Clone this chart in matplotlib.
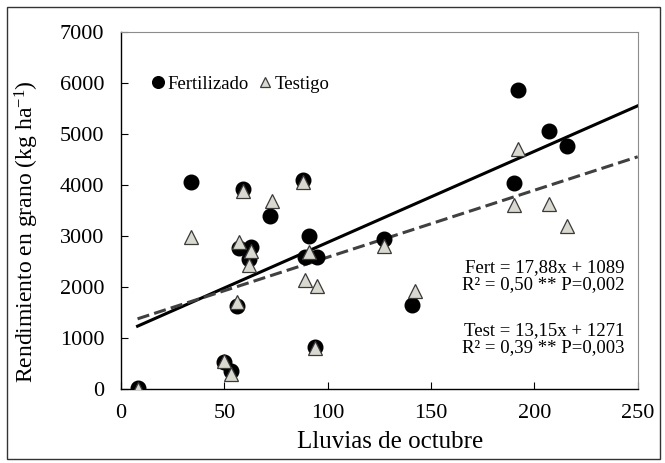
import matplotlib
matplotlib.use("Agg")
import matplotlib.pyplot as plt
from matplotlib.patches import Rectangle
import numpy as np

plt.rcParams['font.family'] = ['Liberation Serif', 'DejaVu Serif']
plt.rcParams['mathtext.fontset'] = 'custom'
plt.rcParams['mathtext.rm'] = 'Liberation Serif'
plt.rcParams['mathtext.it'] = 'Liberation Serif:italic'

# --- datos: lluvias de octubre (mm) vs rendimiento (kg/ha) ---
lluvia_fert = [8, 34, 59, 72, 88, 91, 89, 95, 57, 63, 62, 56, 50, 53, 94, 127, 141, 190, 192, 207, 216]
rend_fert = [10, 4070, 3920, 3400, 4100, 3010, 2600, 2590, 2770, 2790, 2560, 1630, 530, 350, 830, 2950, 1640, 4040, 5870, 5070, 4760]

lluvia_test = [8, 34, 59, 73, 88, 57, 63, 62, 91, 89, 95, 56, 50, 53, 94, 127, 142, 190, 192, 207, 216]
rend_test = [0, 2980, 3890, 3680, 4070, 2890, 2700, 2440, 2680, 2130, 2030, 1700, 540, 290, 810, 2810, 1920, 3610, 4710, 3640, 3200]

# ajustes lineales
pend_fert, ord_fert = 17.88, 1089
pend_test, ord_test = 13.15, 1271

fig = plt.figure(figsize=(6.65, 4.63), dpi=100)
ax = fig.add_axes([0.182, 0.160, 0.777, 0.770])

ax.plot(lluvia_fert, rend_fert, 'o', color='black', markersize=10.5, label='Fertilizado', zorder=3)
ax.plot(lluvia_test, rend_test, '^', markerfacecolor='#d9d9cf', markeredgecolor='#3a3a3a',
        markeredgewidth=0.9, markersize=9.5, label='Testigo', zorder=4)

xr = np.array([8, 250])
ax.plot(xr, pend_fert * xr + ord_fert, '-', color='black', lw=2.2, zorder=2)
ax.plot(xr, pend_test * xr + ord_test, '--', color='#404040', lw=2.2, dashes=(4, 1.7), zorder=2)

ax.set_xlim(0, 250)
ax.set_ylim(0, 7000)
ax.set_xticks(range(0, 251, 50))
ax.set_yticks(range(0, 7001, 1000))
ax.tick_params(direction='in', length=5, labelsize=16, color='black')
ax.tick_params(axis='y', pad=12)
ax.tick_params(axis='x', pad=11)
for s in ['top', 'right']:
    ax.spines[s].set_color('#8c8c8c')
    ax.spines[s].set_linewidth(0.8)
for s in ['left', 'bottom']:
    ax.spines[s].set_linewidth(1.0)

ax.set_xlabel('Lluvias de octubre', fontsize=18)
ax.xaxis.set_label_coords(0.521, -0.118)
ax.set_ylabel(r'Rendimiento en grano (kg ha$^{-1}$)', fontsize=17)
ax.yaxis.set_label_coords(-0.155, 0.44)

leg = ax.legend(loc='center left', bbox_to_anchor=(0.057, 0.854), ncol=2, frameon=False,
                fontsize=13.5, handlelength=0.8, handletextpad=0.1, columnspacing=0.5,
                markerscale=0.8, borderaxespad=0, borderpad=0)

ax.text(0.975, 0.317, 'Fert = 17,88x + 1089\nR² = 0,50 ** P=0,002', transform=ax.transAxes,
        ha='right', va='center', fontsize=13.5, linespacing=1.0)
ax.text(0.975, 0.14, 'Test = 13,15x + 1271\nR² = 0,39 ** P=0,003', transform=ax.transAxes,
        ha='right', va='center', fontsize=13.5, linespacing=1.0)

fig.patches.append(Rectangle((0.011, 0.008), 0.982, 0.976, transform=fig.transFigure,
                             fill=False, edgecolor='#333333', lw=1.0))

fig.savefig('out.png', dpi=100)
